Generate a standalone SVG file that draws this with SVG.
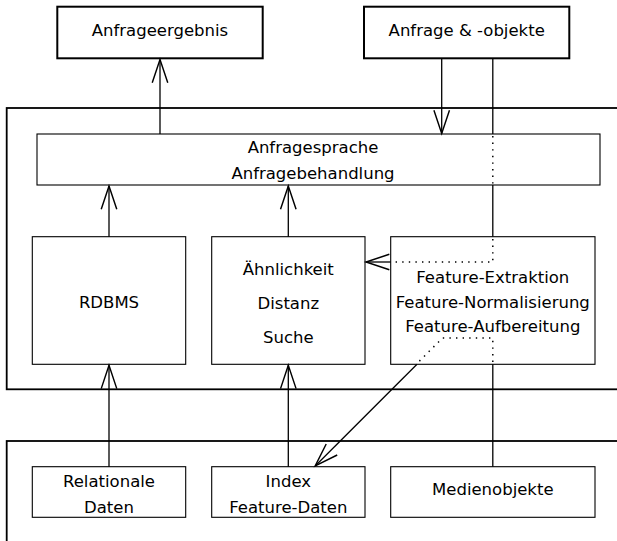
<svg xmlns="http://www.w3.org/2000/svg" width="617" height="541" viewBox="0 0 617 541">
<style>
text{font-family:"DejaVu Sans","Liberation Sans",sans-serif;font-size:16.5px;fill:#000;text-anchor:middle}
.thick{fill:#fff;stroke:#000;stroke-width:2}
.box{fill:#fff;stroke:#000;stroke-width:1.1}
.outer{fill:none;stroke:#000;stroke-width:1.8}
.ln{fill:none;stroke:#000;stroke-width:1.3}
.dot{fill:none;stroke:#000;stroke-width:1.5;stroke-dasharray:1.4 5.2}
</style>
<defs>
<marker id="ah" markerUnits="userSpaceOnUse" markerWidth="30" markerHeight="20" viewBox="-23 -9 26 18" refX="0" refY="0" orient="auto">
<path d="M-21,-7 L0,0 L-21,7" fill="none" stroke="#000" stroke-width="1.3"/>
</marker>
</defs>
<g id="containers">
<rect class="outer" x="6.7" y="108" width="620" height="281.3"/>
<rect class="outer" x="6.7" y="441" width="620" height="120"/>
</g>
<g id="anfrageergebnis"><rect class="thick" x="57.3" y="6.7" width="205.4" height="51.6"/><text x="160" y="36">Anfrageergebnis</text></g>
<g id="anfrage"><rect class="thick" x="364" y="6.7" width="205.3" height="51.6"/><text x="466.7" y="36">Anfrage &amp; -objekte</text></g>
<g id="anfragesprache"><rect class="box" x="37" y="134" width="563" height="51"/><text x="313" y="153">Anfragesprache</text><text x="313" y="179">Anfragebehandlung</text></g>
<g id="rdbms"><rect class="box" x="32.3" y="236.7" width="153.4" height="127.6"/><text x="109" y="308.3">RDBMS</text></g>
<g id="aehnlichkeit"><rect class="box" x="211.7" y="236.7" width="153.3" height="127.6"/><text x="288.3" y="275">Ähnlichkeit</text><text x="288.3" y="308.5">Distanz</text><text x="288.3" y="343">Suche</text></g>
<g id="feature"><rect class="box" x="390.7" y="236.7" width="204.3" height="127.6"/><text x="492.8" y="283.3">Feature-Extraktion</text><text x="492.8" y="307.5">Feature-Normalisierung</text><text x="492.8" y="331.7">Feature-Aufbereitung</text></g>
<g id="relationale"><rect class="box" x="32.3" y="466.7" width="153.4" height="50.6"/><text x="109" y="487.3">Relationale</text><text x="109" y="512.7">Daten</text></g>
<g id="index"><rect class="box" x="211.7" y="466.7" width="153.3" height="50.6"/><text x="288.3" y="487.3">Index</text><text x="288.3" y="512.7">Feature-Daten</text></g>
<g id="medien"><rect class="box" x="390.7" y="466.7" width="204.3" height="50.6"/><text x="492.8" y="495">Medienobjekte</text></g>
<g id="connectors">
<path class="ln" d="M160,134 V59.5" marker-end="url(#ah)"/>
<path class="ln" d="M441.7,58.3 V133.5" marker-end="url(#ah)"/>
<path class="ln" d="M109,236.7 V186" marker-end="url(#ah)"/>
<path class="ln" d="M288.3,236.7 V186" marker-end="url(#ah)"/>
<path class="ln" d="M109,466.7 V365.3" marker-end="url(#ah)"/>
<path class="ln" d="M288.3,466.7 V365.3" marker-end="url(#ah)"/>
<path class="ln" d="M492.8,58.3 V134"/>
<path class="dot" d="M492.8,136 V185"/>
<path class="ln" d="M492.8,185 V236.7"/>
<path class="dot" d="M492.8,239 V262 H393"/>
<path class="ln" d="M390.7,262 H366" marker-end="url(#ah)"/>
<path class="ln" d="M492.8,466.7 V364.3"/>
<path class="dot" d="M492.8,362 V338 H442.5 L418,362.5"/>
<path class="ln" d="M417,364.3 L315.2,466" marker-end="url(#ah)"/>
</g>
</svg>
